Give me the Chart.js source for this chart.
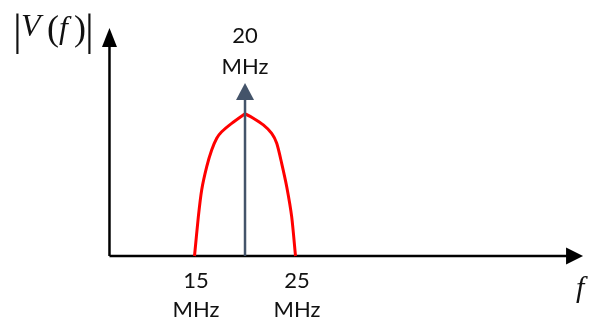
<!DOCTYPE html>
<html>
<head>
<meta charset="utf-8">
<script src="https://cdn.jsdelivr.net/npm/chart.js@4.4.0/dist/chart.umd.min.js"></script>
<style>
  html, body { margin: 0; padding: 0; background: #ffffff; }
  #wrap { width: 589px; height: 329px; position: relative; }
</style>
</head>
<body>
<div id="wrap"><canvas id="c" width="589" height="329"></canvas></div>
<script>
// ---- data (frequency in MHz, magnitude normalised to peak = 1) ----
const spectrumF = [15, 15.38, 15.71, 16.21, 16.70, 17.20, 17.69, 18.68, 19.83, 20, 20.82, 21.81, 22.64, 23.14, 23.63, 24.13, 24.62, 25];
const spectrumV = [0, 0.277, 0.465, 0.629, 0.746, 0.829, 0.875, 0.934, 0.993, 1, 0.970, 0.923, 0.864, 0.794, 0.653, 0.488, 0.277, 0];
const carrierF = 20;
const carrierTop = 1.218;
const tickFreqs = [15, 25];
const tickLabels = [["15", "MHz"], ["25", "MHz"]];
const carrierLabel = ["20", "MHz"];
const axisOriginF = 6.58;
const axisEndF = 53.47;
const axisTopV = 1.606;
const xLabel = "f";
const yLabelParts = ["V", "(", "f", ")"];

const pts = spectrumF.map((f, i) => ({ x: f, y: spectrumV[i] }));

const arrowsAndText = {
  id: 'arrowsAndText',
  afterDatasetsDraw(chart) {
    const ctx = chart.ctx;
    const xs = chart.scales.x, ys = chart.scales.y;
    const X = v => xs.getPixelForValue(v);
    const Y = v => ys.getPixelForValue(v);
    function tri(ax, ay, bx, by, cx, cy, col) {
      ctx.beginPath(); ctx.moveTo(ax, ay); ctx.lineTo(bx, by); ctx.lineTo(cx, cy); ctx.closePath();
      ctx.fillStyle = col; ctx.fill();
    }
    ctx.save();
    // y axis arrowhead
    const ox = X(axisOriginF), ty = Y(axisTopV);
    tri(ox, ty, ox - 7.5, ty + 19, ox + 7.5, ty + 19, '#000');
    // x axis arrowhead
    const ex = X(axisEndF), by = Y(0);
    tri(ex, by, ex - 17, by - 8.5, ex - 17, by + 8.5, '#000');
    // carrier arrowhead
    const cx = X(carrierF), cy = Y(carrierTop);
    tri(cx, cy, cx - 9, cy + 17, cx + 9, cy + 17, '#44546A');

    // labels
    ctx.fillStyle = '#111';
    ctx.font = '22px Lato';
    ctx.textAlign = 'center';
    ctx.textBaseline = 'middle';
    ctx.fillText(carrierLabel[0], cx, 36);
    ctx.fillText(carrierLabel[1], cx, 67);
    tickFreqs.forEach((f, i) => {
      const px = X(f) + 1.5;
      ctx.fillText(tickLabels[i][0], px, by + 25);
      ctx.fillText(tickLabels[i][1], px, by + 54);
    });
    // axis titles
    ctx.font = 'italic 30px "Liberation Serif"';
    ctx.textAlign = 'left';
    ctx.textBaseline = 'alphabetic';
    ctx.fillText(xLabel, 576, 297);
    // |V(f)|
    ctx.font = '44px "Liberation Serif"';
    ctx.fillText('|', 13, 45);
    ctx.fillText('|', 85, 45);
    ctx.font = 'italic 32px "Liberation Serif"';
    ctx.fillText(yLabelParts[0], 21, 36);
    ctx.fillText(yLabelParts[2], 59, 38);
    ctx.font = '36px "Liberation Serif"';
    ctx.fillText(yLabelParts[1], 47, 40);
    ctx.fillText(yLabelParts[3], 74, 40);
    ctx.restore();
  }
};

new Chart(document.getElementById('c'), {
  type: 'line',
  data: {
    datasets: [
      {
        data: [{ x: axisOriginF, y: 0 }, { x: axisEndF - 1, y: 0 }],
        borderColor: '#000', borderWidth: 2.5, pointRadius: 0, order: 3
      },
      {
        data: [{ x: axisOriginF, y: 0 }, { x: axisOriginF, y: axisTopV - 0.1 }],
        borderColor: '#000', borderWidth: 2.5, pointRadius: 0, order: 3
      },
      {
        data: pts,
        borderColor: '#FF0000', borderWidth: 3, pointRadius: 0, tension: 0.25, order: 2
      },
      {
        data: [{ x: carrierF, y: 0 }, { x: carrierF, y: carrierTop - 0.05 }],
        borderColor: '#44546A', borderWidth: 2.5, pointRadius: 0, order: 1
      }
    ]
  },
  options: {
    responsive: false,
    animation: false,
    layout: { padding: 0 },
    plugins: { legend: { display: false }, tooltip: { enabled: false } },
    scales: {
      x: { type: 'linear', min: -4.26, max: 54.06, display: false },
      y: { type: 'linear', min: -0.514, max: 1.803, display: false }
    }
  },
  plugins: [arrowsAndText]
});
</script>
</body>
</html>
